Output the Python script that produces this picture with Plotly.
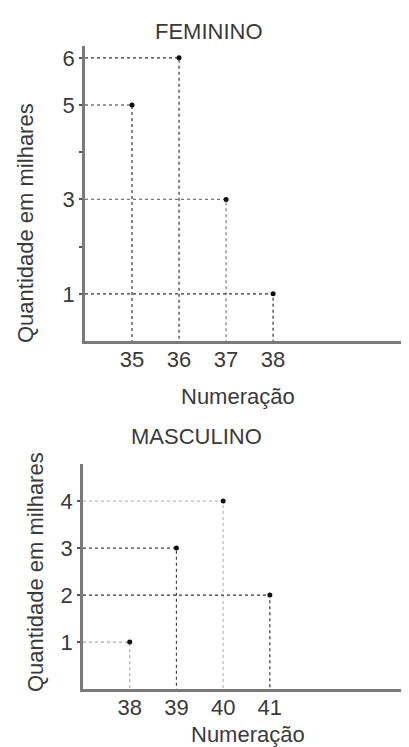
import plotly.graph_objects as go

# ---- data ----
fem_sizes = [35, 36, 37, 38]
fem_qty = [5, 6, 3, 1]
masc_sizes = [38, 39, 40, 41]
masc_qty = [1, 3, 4, 2]

fem_yticks = [1, 2, 3, 4, 5, 6]
fem_yticklabels = ["1", "", "3", "", "5", "6"]
masc_yticks = [1, 2, 3, 4]
masc_yticklabels = ["1", "2", "3", "4"]

title_fem = "FEMININO"
title_masc = "MASCULINO"
x_title = "Numeração"
y_title = "Quantidade em milhares"

# ---- styles ----
W, H = 409, 747
FONT = "Liberation Sans, Arial, sans-serif"
FS = 22
TXT = "#3a3a3a"
fem_line_colors = ["#333333", "#333333", "#777777", "#333333"]
masc_line_colors = ["#aaaaaa", "#444444", "#bbbbbb", "#333333"]

fem_xrange = [34, 41.06]
fem_yrange = [0, 6.25]
masc_xrange = [37, 44.15]
masc_yrange = [0, 4.79]

fig = go.Figure()


def add_panel(sizes, qty, colors, xr, xa, ya):
    for x, y, c in zip(sizes, qty, colors):
        fig.add_trace(go.Scatter(
            x=[xr[0], x, x], y=[y, y, 0], mode="lines",
            line=dict(color=c, width=1.2, dash="dot"),
            xaxis=xa, yaxis=ya, hoverinfo="skip", showlegend=False))
    fig.add_trace(go.Scatter(
        x=sizes, y=qty, mode="markers",
        marker=dict(color="#111111", size=5),
        xaxis=xa, yaxis=ya, showlegend=False))


add_panel(fem_sizes, fem_qty, fem_line_colors, fem_xrange, "x", "y")
add_panel(masc_sizes, masc_qty, masc_line_colors, masc_xrange, "x2", "y2")

axis_common = dict(showgrid=False, zeroline=False, showline=True,
                   linecolor="#7a7a7a", linewidth=2.5,
                   tickfont=dict(family=FONT, size=FS, color=TXT))

fig.update_layout(
    width=W, height=H,
    margin=dict(l=0, r=0, t=0, b=0),
    paper_bgcolor="white", plot_bgcolor="white",
    xaxis=dict(domain=[77 / W, 1], range=fem_xrange, anchor="y",
               tickvals=fem_sizes, ticktext=[str(v) for v in fem_sizes],
               ticks="", ticklabelstandoff=-3, **axis_common),
    yaxis=dict(domain=[1 - 333 / H, 1 - 38 / H], range=fem_yrange, anchor="x",
               tickvals=fem_yticks, ticktext=fem_yticklabels,
               ticks="outside", ticklen=3, tickcolor="#555555", tickwidth=2,
               **axis_common),
    xaxis2=dict(domain=[75 / W, 1], range=masc_xrange, anchor="y2",
                tickvals=masc_sizes, ticktext=[str(v) for v in masc_sizes],
                ticks="", ticklabelstandoff=-3, **axis_common),
    yaxis2=dict(domain=[1 - 681 / H, 1 - 456 / H], range=masc_yrange, anchor="x2",
                tickvals=masc_yticks, ticktext=masc_yticklabels,
                ticks="outside", ticklen=3, tickcolor="#555555", tickwidth=2,
                **axis_common),
)

def ann(text, x, y, angle=0):
    fig.add_annotation(text=text, x=x / W, y=1 - y / H, xref="paper", yref="paper",
                       showarrow=False, textangle=angle, xanchor="center", yanchor="middle",
                       font=dict(family=FONT, size=FS, color=TXT))

ann(title_fem, 201, 23)
ann(x_title, 230, 388)
ann(y_title, 17, 215, -90)
ann(title_masc, 188, 428)
ann(x_title, 240, 726)
ann(y_title, 27, 564, -90)

fig.write_html("out.html")
